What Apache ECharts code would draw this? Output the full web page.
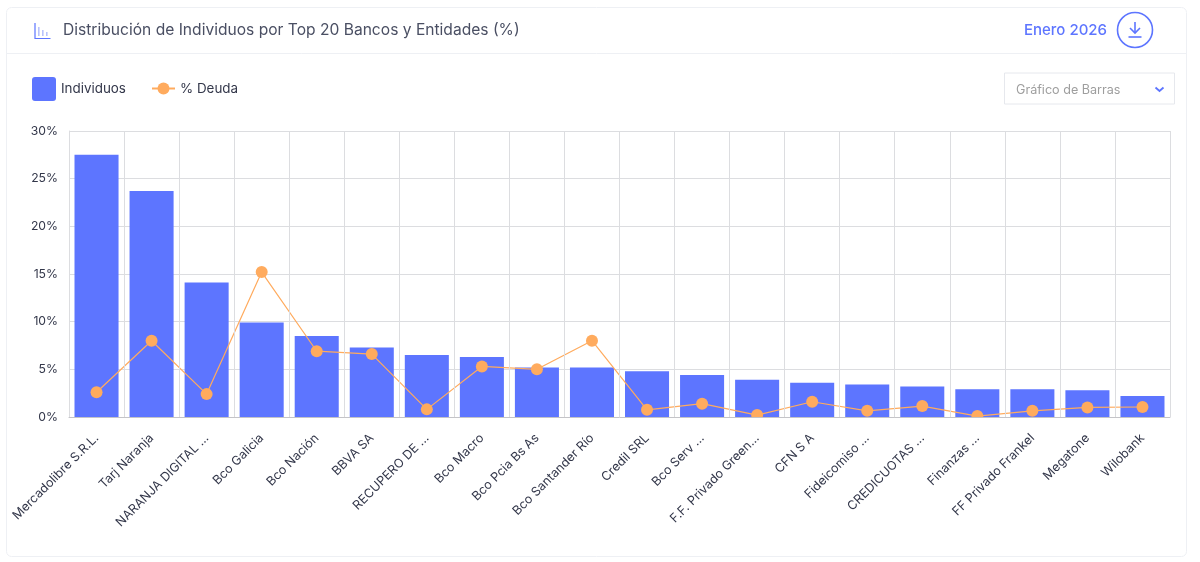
<!DOCTYPE html>
<html>
<head>
<meta charset="utf-8">
<title>Distribución de Individuos</title>
<script src="https://cdn.jsdelivr.net/npm/echarts@6/dist/echarts.min.js"></script>
<style>
  html, body { margin: 0; padding: 0; background: #fff; }
  #chart { width: 1200px; height: 562px; }
</style>
</head>
<body>
<div id="chart"></div>
<script>
var categories = ['Mercadolibre S.R.L.', 'Tarj Naranja', 'NARANJA DIGITAL ...', 'Bco Galicia', 'Bco Nación',
  'BBVA SA', 'RECUPERO DE ...', 'Bco Macro', 'Bco Pcia Bs As', 'Bco Santander Río',
  'Credil SRL', 'Bco Serv ...', 'F.F. Privado Green...', 'CFN S A', 'Fideicomiso ...',
  'CREDICUOTAS ...', 'Finanzas ...', 'FF Privado Frankel', 'Megatone', 'Wilobank'];
var individuos = [27.5, 23.7, 14.1, 9.9, 8.5, 7.3, 6.5, 6.3, 5.2, 5.2, 4.8, 4.4, 3.9, 3.6, 3.4, 3.2, 2.9, 2.9, 2.8, 2.2];
var deuda = [2.6, 8.0, 2.4, 15.2, 6.9, 6.6, 0.8, 5.3, 5.0, 8.0, 0.75, 1.4, 0.2, 1.6, 0.65, 1.15, 0.1, 0.65, 1.0, 1.05];
var yTicks = [0, 5, 10, 15, 20, 25, 30];

var FONT = 'Inter';
var BLUE = '#5d75ff';
var ORANGE = '#ffab5e';
var GRID = '#dcdde0';

var chart = echarts.init(document.getElementById('chart'));

chart.setOption({
  animation: false,
  textStyle: { fontFamily: FONT },
  title: {
    text: 'Distribución de Individuos por Top 20 Bancos y Entidades (%)',
    left: 63,
    top: 22,
    padding: 0,
    textStyle: { fontSize: 15.6, fontWeight: 'normal', color: '#4a4f63', fontFamily: FONT }
  },
  legend: [
    {
      data: ['Individuos'],
      left: 32,
      top: 77,
      padding: 0,
      itemWidth: 24,
      itemHeight: 24,
      icon: 'path://M3,0H21Q24,0,24,3V21Q24,24,21,24H3Q0,24,0,21V3Q0,0,3,0Z',
      textStyle: { fontSize: 13.4, color: '#33374a', fontFamily: FONT }
    },
    {
      data: ['% Deuda'],
      left: 151,
      top: 82,
      padding: 0,
      itemWidth: 23,
      itemHeight: 15,
      textStyle: { fontSize: 13.4, color: '#33374a', fontFamily: FONT }
    }
  ],
  grid: { left: 69, right: 30, top: 131, bottom: 145 },
  xAxis: {
    type: 'category',
    z: 10,
    data: categories,
    axisLine: { lineStyle: { color: '#c4c4c8' } },
    axisTick: { alignWithLabel: true, length: 6, lineStyle: { color: '#a8a8ac' } },
    splitLine: { show: true, lineStyle: { color: GRID } },
    axisLabel: { interval: 0, rotate: 45, margin: 19, fontSize: 12.5, color: '#33374a', fontFamily: FONT }
  },
  yAxis: {
    type: 'value',
    min: yTicks[0],
    max: yTicks[yTicks.length - 1],
    interval: yTicks[1] - yTicks[0],
    axisLine: { show: true, lineStyle: { color: GRID } },
    axisTick: { show: false },
    splitLine: { show: true, lineStyle: { color: GRID } },
    axisLabel: { formatter: '{value}%', margin: 11, fontSize: 12.2, color: '#33374a', fontFamily: FONT }
  },
  series: [
    {
      name: 'Individuos',
      type: 'bar',
      data: individuos,
      barWidth: '80%',
      itemStyle: { color: BLUE }
    },
    {
      name: '% Deuda',
      type: 'line',
      data: deuda,
      symbol: 'circle',
      symbolSize: 12,
      lineStyle: { width: 1.2, color: ORANGE },
      itemStyle: { color: ORANGE }
    }
  ],
  graphic: [
    // card + header divider
    { type: 'rect', z: -1, shape: { x: 6.5, y: 7.5, width: 1180, height: 549, r: 5 }, style: { fill: '#fff', stroke: '#eef0f4', lineWidth: 1 } },
    { type: 'line', z: -1, shape: { x1: 7, y1: 53.5, x2: 1186, y2: 53.5 }, style: { stroke: '#eef0f4', lineWidth: 1 } },
    // hides the part of the markers that falls under the axis
    { type: 'rect', z: 5, shape: { x: 68, y: 417, width: 1103, height: 8 }, style: { fill: '#fff' } },
    // chart icon in the header
    { type: 'polyline', shape: { points: [[35, 23], [35, 38.5], [50.5, 38.5]] }, style: { stroke: BLUE, lineWidth: 1.2, fill: 'none' } },
    { type: 'rect', shape: { x: 38, y: 27, width: 1.6, height: 9 }, style: { fill: '#b9c3fb' } },
    { type: 'rect', shape: { x: 42, y: 30, width: 1.6, height: 6 }, style: { fill: '#b9c3fb' } },
    { type: 'rect', shape: { x: 46, y: 32, width: 1.6, height: 4 }, style: { fill: '#b9c3fb' } },
    // period + download button
    { type: 'text', style: { x: 1107, y: 30, text: 'Enero 2026', align: 'right', verticalAlign: 'middle', fontSize: 15, fontWeight: 500, fontFamily: FONT, fill: BLUE } },
    { type: 'circle', shape: { cx: 1135, cy: 30, r: 17.5 }, style: { fill: 'none', stroke: BLUE, lineWidth: 1.6 } },
    { type: 'polyline', shape: { points: [[1135, 22], [1135, 32]] }, style: { stroke: BLUE, lineWidth: 1.6, fill: 'none' } },
    { type: 'polyline', shape: { points: [[1130, 28], [1135, 33], [1140, 28]] }, style: { stroke: BLUE, lineWidth: 1.6, fill: 'none' } },
    { type: 'line', shape: { x1: 1128.5, y1: 37, x2: 1141.5, y2: 37 }, style: { stroke: BLUE, lineWidth: 1.6 } },
    // chart type selector
    { type: 'rect', shape: { x: 1004.5, y: 73, width: 170, height: 31 }, style: { fill: '#fff', stroke: '#e6e8ed', lineWidth: 1 } },
    { type: 'text', style: { x: 1016, y: 90, text: 'Gráfico de Barras', verticalAlign: 'middle', fontSize: 12.6, fontFamily: FONT, fill: '#9e9e9e' } },
    { type: 'polyline', shape: { points: [[1155.5, 87.5], [1159.5, 91], [1163.5, 87.5]] }, style: { stroke: BLUE, lineWidth: 1.8, fill: 'none' } }
  ]
});
</script>
</body>
</html>
